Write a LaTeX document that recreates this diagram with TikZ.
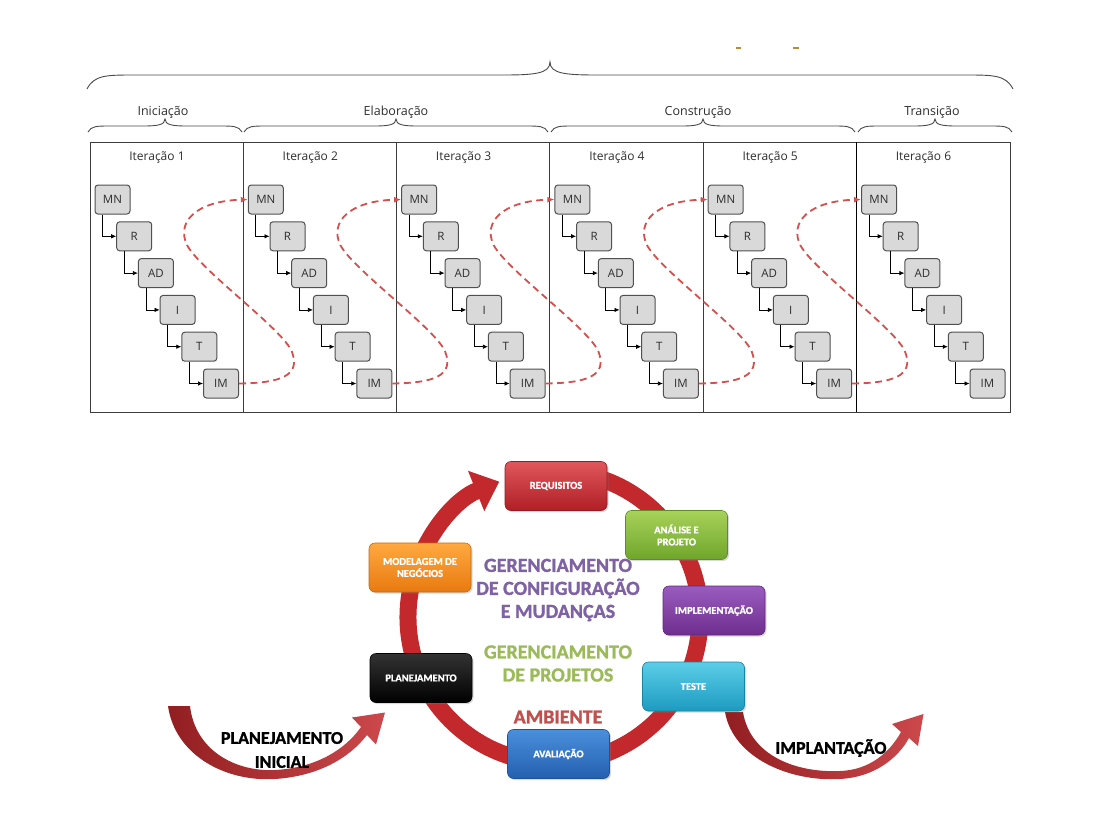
\documentclass[tikz,border=0pt]{standalone}
\usepackage{fontspec}
\setmainfont{Carlito}
\newfontfamily\heavyfont{Carlito}[BoldFeatures={FakeBold=1.3}]
\newfontfamily\topfont{Open Sans}
\usetikzlibrary{arrows.meta,shadows,calc}

\definecolor{boxfill}{HTML}{D9D9D9}
\definecolor{boxedge}{HTML}{505050}
\definecolor{boxtext}{HTML}{2E2E2E}
\definecolor{dashred}{HTML}{D2504D}
\definecolor{framegray}{HTML}{3C3C3C}
\definecolor{bracegray}{HTML}{4A4A4A}
\definecolor{ringred}{HTML}{C3282C}
\definecolor{cfgpurple}{HTML}{7F62A3}
\definecolor{prjgreen}{HTML}{9BBB59}
\definecolor{envred}{HTML}{C0504D}
\definecolor{markgold}{HTML}{B88A3A}
% box gradients, light top / dark bottom
\definecolor{reqA}{HTML}{E0575B}\definecolor{reqB}{HTML}{B01F25}
\definecolor{anaA}{HTML}{A8D25A}\definecolor{anaB}{HTML}{6FA52C}
\definecolor{impA}{HTML}{9A5CBF}\definecolor{impB}{HTML}{6E2E8F}
\definecolor{tstA}{HTML}{5CCDE8}\definecolor{tstB}{HTML}{1C9BC0}
\definecolor{avaA}{HTML}{4A8FDB}\definecolor{avaB}{HTML}{2460B0}
\definecolor{plaA}{HTML}{333333}\definecolor{plaB}{HTML}{000000}
\definecolor{modA}{HTML}{FFA940}\definecolor{modB}{HTML}{E87A10}

% curly brace: x0, x1, y of the feet, y of the bar, y of the tip, spread of the shoulders
\newcommand\phasebrace[6]{%
  \pgfmathsetmacro\xm{(#1+#2)/2}%
  \draw[bracestyle] (#1,#3) .. controls (#1+0.15*#6,#4) and (#1+0.4*#6,#4) .. (#1+#6,#4)
    -- (\xm-#6,#4) .. controls (\xm-0.35*#6,#4) and (\xm,#4-1) .. (\xm,#5)
    .. controls (\xm,#4-1) and (\xm+0.35*#6,#4) .. (\xm+#6,#4)
    -- (#2-#6,#4) .. controls (#2-0.4*#6,#4) and (#2-0.15*#6,#4) .. (#2,#3);}

\begin{document}
\begin{tikzpicture}[x=1pt,y=-1pt,
  bracestyle/.style={draw=bracegray,line width=0.9pt},
  phaselabel/.style={font=\topfont\fontsize{12.5}{14}\selectfont,text=boxtext},
  itlabel/.style={font=\topfont\fontsize{12}{14}\selectfont,text=boxtext},
  stepnode/.style={draw=boxedge,fill=boxfill,rounded corners=3pt,line width=1pt,
    minimum width=35pt,minimum height=29pt,inner sep=0pt,
    font=\topfont\fontsize{11.5}{13}\selectfont,text=boxtext},
  flow/.style={draw=black,line width=0.7pt,-{Latex[length=5pt,width=4.5pt]}},
  iterflow/.style={draw=dashred,line width=1.8pt,dash pattern=on 7pt off 4.5pt,
    -{Latex[length=7pt,width=6pt]}},
  cyclebox/.style={rounded corners=6pt,top color=#1A,bottom color=#1B,draw=#1B!85!black,
    line width=0.6pt,minimum width=102pt,minimum height=49pt,inner sep=1pt,align=center,
    text=white,font=\heavyfont\bfseries\fontsize{10.5}{12}\selectfont,
    drop shadow={opacity=0.3,shadow xshift=1.5pt,shadow yshift=-1.5pt}},
  mgmt/.style={font=\heavyfont\bfseries\fontsize{20}{23}\selectfont,align=center,inner sep=0pt},
  arrowlabel/.style={font=\heavyfont\bfseries\fontsize{18}{24}\selectfont,align=center,inner sep=0pt,text=black},
]
\useasboundingbox (0,0) rectangle (1109,822);

% ---------- phases and iterations ----------
\draw[markgold,line width=1.2pt] (736,48) -- (741,48) (793,48) -- (799,48);

\phasebrace{87}{1013}{89}{75}{62}{48}
\phasebrace{88}{242}{132}{126}{119}{22}
\phasebrace{244}{548}{132}{126}{119}{22}
\phasebrace{551}{855}{132}{126}{119}{22}
\phasebrace{858}{1012}{132}{126}{119}{22}

\node[phaselabel] (ini) at (163,112) {Iniciação};
\node[phaselabel] (ela) at (396,112) {Elaboração};
\node[phaselabel] (con) at (698,112) {Construção};
\node[phaselabel] (tra) at (932,112) {Transição};

\draw[framegray,line width=1pt] (90,142) rectangle (1010,412);
\foreach \k in {1,...,4}
  \draw[framegray,line width=0.9pt] (90+153.3*\k,142) -- (90+153.3*\k,412);
\draw[black,line width=1.8pt] (856.5,142) -- (856.5,412);

\foreach \c in {0,...,5}{
  \pgfmathsetmacro\ox{153.3*\c}
  \pgfmathtruncatemacro\nr{\c+1}
  \node[itlabel] (it\c) at (157+\ox,158) {Iteração \nr};
  \foreach \nm/\lbl [count=\k from 0] in {mn/MN,r/R,ad/AD,i/I,t/T,im/IM}
    \node[stepnode] (\nm\c) at (112.5+\ox+21.7*\k,199.5+36.8*\k) {\lbl};
  \draw[flow] ([xshift=8pt]mn\c.south west) |- (r\c.west);
  \draw[flow] ([xshift=8pt]r\c.south west) |- (ad\c.west);
  \draw[flow] ([xshift=8pt]ad\c.south west) |- (i\c.west);
  \draw[flow] ([xshift=8pt]i\c.south west) |- (t\c.west);
  \draw[flow] ([xshift=8pt]t\c.south west) |- (im\c.west);
}

% dashed hand-over from one iteration to the next
\foreach \c in {0,...,4}{
  \pgfmathsetmacro\ox{153.3*\c}
  \pgfmathtruncatemacro\nx{\c+1}
  \draw[iterflow] (im\c.east) .. controls (280+\ox,383) and (301+\ox,376) .. (292+\ox,352)
    .. controls (284+\ox,330) and (200+\ox,270) .. (187+\ox,245)
    .. controls (176+\ox,222) and (196+\ox,201) .. (mn\nx.west);
}

% ---------- development cycle ----------
\draw[ringred,line width=17pt,line cap=butt,-{Triangle[width=42pt,length=25pt]}]
  (554,617) ++(-80:146) arc[start angle=-80,end angle=248,radius=146];

% tapered arrow into planning
\shade[left color=ringred!75!black,right color=ringred!85!white]
  (168,706) .. controls (175,755) and (225,782) .. (275,779)
  .. controls (320,776) and (350,757) .. (367,735)
  -- (376,744.5) -- (385,712.5) -- (352,717.5) -- (361,727)
  .. controls (345,750) and (315,768) .. (275,770)
  .. controls (235,772) and (195,750) .. (190,706) -- cycle;

% tapered arrow out of testing
\shade[left color=ringred!75!black,right color=ringred!85!white]
  (725,712) .. controls (733,758) and (790,782) .. (840,779)
  .. controls (875,777) and (898,758) .. (909,738)
  -- (918,746) -- (923.5,714) -- (892,724) -- (901,732)
  .. controls (890,752) and (870,770) .. (840,771)
  .. controls (795,773) and (750,755) .. (743,712) -- cycle;

\node[cyclebox=req] (req) at (556,486) {REQUISITOS};
\node[cyclebox=ana] (ana) at (676.5,535) {ANÁLISE E\\PROJETO};
\node[cyclebox=imp] (imp) at (714,610.5) {IMPLEMENTAÇÃO};
\node[cyclebox=tst] (tst) at (693.5,686.5) {TESTE};
\node[cyclebox=ava] (ava) at (558.5,754) {AVALIAÇÃO};
\node[cyclebox=pla] (pla) at (421,678) {PLANEJAMENTO};
\node[cyclebox=mod] (mod) at (420,567.5) {MODELAGEM DE\\NEGÓCIOS};

\node[mgmt,text=cfgpurple] (cfg) at (558,590) {GERENCIAMENTO\\DE CONFIGURAÇÃO\\E MUDANÇAS};
\node[mgmt,text=prjgreen] (prj) at (558,663.5) {GERENCIAMENTO\\DE PROJETOS};
\node[mgmt,text=envred] (env) at (558,717) {AMBIENTE};

\node[arrowlabel] (pini) at (282,750) {PLANEJAMENTO\\INICIAL};
\node[arrowlabel] (impl) at (831,748) {IMPLANTAÇÃO};
\end{tikzpicture}
\end{document}
